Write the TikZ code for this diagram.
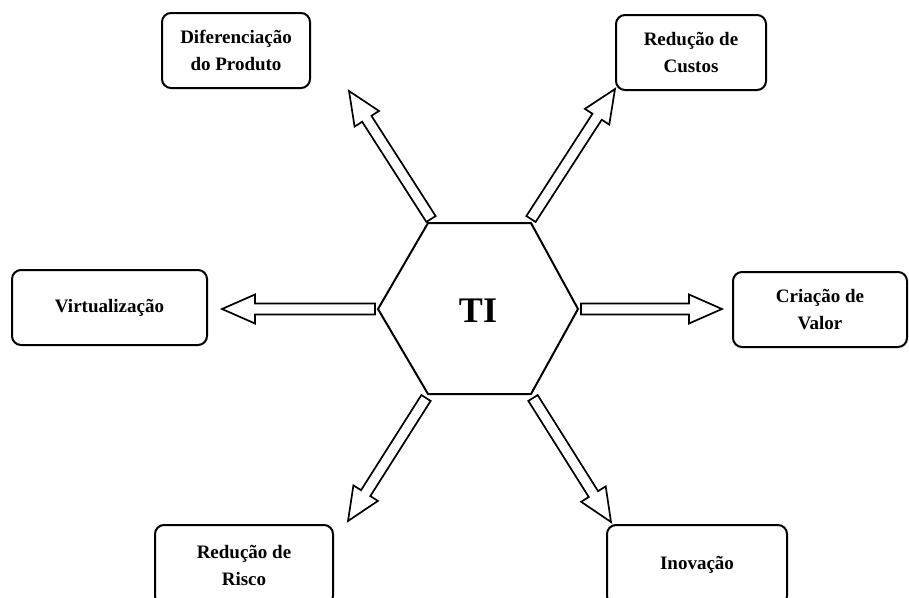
\documentclass[tikz,border=0pt]{standalone}
\usepackage{fontspec}
\setmainfont{Liberation Serif}
\usetikzlibrary{calc}
\tikzset{
  boxnode/.style={draw, line width=2pt, rounded corners=9pt, align=center,
    font=\bfseries\fontsize{19}{27}\selectfont, inner sep=0pt},
  arrline/.style={draw, line width=1.7pt, line join=miter, fill=white},
  hexline/.style={draw, line width=2pt, line join=miter}
}
\newcommand\blockarr[2]{%
  \path[arrline] ($(#1)!5.5pt!90:(#2)$)
    -- ($($(#2)!33pt!(#1)$)!5.5pt!90:(#2)$)
    -- ($($(#2)!33pt!(#1)$)!14.5pt!90:(#2)$)
    -- (#2)
    -- ($($(#2)!33pt!(#1)$)!14.5pt!-90:(#2)$)
    -- ($($(#2)!33pt!(#1)$)!5.5pt!-90:(#2)$)
    -- ($(#1)!5.5pt!-90:(#2)$) -- cycle;}
\begin{document}
\begin{tikzpicture}[x=1pt,y=-1pt]
\useasboundingbox (0,0) rectangle (909,597);
\clip (0,0) rectangle (909,597);
% boxes
\node[boxnode, minimum width=148pt, minimum height=75pt] (dif) at (236,50.5) {Diferenciação\\do Produto};
\node[boxnode, minimum width=150pt, minimum height=75pt] (cus) at (691,52.5) {Redução de\\Custos};
\node[boxnode, minimum width=195pt, minimum height=75pt] (vir) at (109.5,307.5) {Virtualização};
\node[boxnode, minimum width=174pt, minimum height=75pt] (cri) at (820,309.5) {Criação de\\Valor};
\node[boxnode, minimum width=178pt, minimum height=80pt] (ris) at (244,565) {Redução de\\Risco};
\node[boxnode, minimum width=180pt, minimum height=80pt] (ino) at (697,565) {Inovação};
% hexagon
\coordinate (h1) at (428,223);
\coordinate (h2) at (531,223);
\coordinate (h3) at (578,309);
\coordinate (h4) at (531,394);
\coordinate (h5) at (428,394);
\coordinate (h6) at (378,309);
\path[hexline] (h1) -- (h2) -- (h3) -- (h4) -- (h5) -- (h6) -- cycle;
\node[font=\bfseries\fontsize{36}{40}\selectfont] (ti) at (478,311) {TI};
% arrow ends
\coordinate (tul) at (431,219);  \coordinate (pul) at (349,91);
\coordinate (tur) at (531,219);  \coordinate (pur) at (615,89);
\coordinate (tl)  at (375,309);  \coordinate (pl)  at (222,309);
\coordinate (tr)  at (581,309);  \coordinate (pr)  at (722,309);
\coordinate (tll) at (426,398);  \coordinate (pll) at (348,521);
\coordinate (tlr) at (533,398);  \coordinate (plr) at (611,522);
\blockarr{tul}{pul}
\blockarr{tur}{pur}
\blockarr{tl}{pl}
\blockarr{tr}{pr}
\blockarr{tll}{pll}
\blockarr{tlr}{plr}
\end{tikzpicture}
\end{document}
